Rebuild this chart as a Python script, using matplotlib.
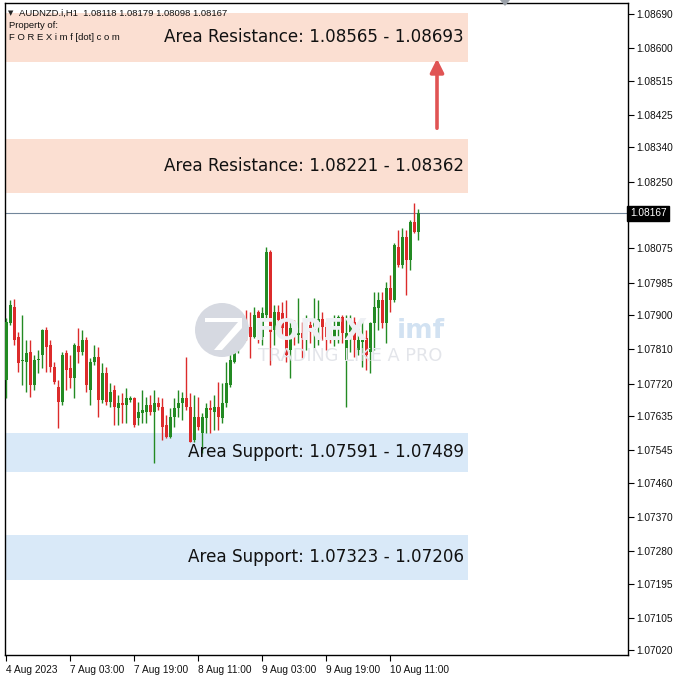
import numpy as np
import matplotlib
matplotlib.use("Agg")
import matplotlib.pyplot as plt
from matplotlib.patches import Rectangle, Circle, Polygon

# AUDNZD H1 candles, 4 Aug 2023 11:00 -> 10 Aug 2023 18:00
opens = [1.07730, 1.07879, 1.07921, 1.07842, 1.07779, 1.07777, 1.07803, 1.07716, 1.07782, 1.07795,
         1.07861, 1.07821, 1.07764, 1.07711, 1.07672, 1.07800, 1.07761, 1.07735, 1.07819, 1.07803,
         1.07835, 1.07703, 1.07777, 1.07790, 1.07677, 1.07748, 1.07672, 1.07703, 1.07656, 1.07669,
         1.07664, 1.07677, 1.07682, 1.07630, 1.07643, 1.07646, 1.07664, 1.07646, 1.07669, 1.07659,
         1.07611, 1.07580, 1.07632, 1.07656, 1.07669, 1.07682, 1.07659, 1.07572, 1.07632, 1.07590,
         1.07630, 1.07656, 1.07646, 1.07659, 1.07630, 1.07669, 1.07716, 1.07777, 1.07816, 1.07829,
         1.07861, 1.07869, 1.07842, 1.07908, 1.07842, 1.07900, 1.08066, 1.07861, 1.07908, 1.07905,
         1.07887, 1.07808, 1.07869, 1.07848, 1.07853, 1.07848, 1.07874, 1.07861, 1.07882, 1.07890,
         1.07869, 1.07842, 1.07842, 1.07869, 1.07895, 1.07782, 1.07856, 1.07882, 1.07808, 1.07829,
         1.07840, 1.07803, 1.07879, 1.07919, 1.07940, 1.07879, 1.07971, 1.07940, 1.08079, 1.08031,
         1.08105, 1.08045, 1.08144, 1.08118]
highs = [1.07892, 1.07940, 1.07942, 1.07856, 1.07900, 1.07835, 1.07835, 1.07795, 1.07808, 1.07863,
         1.07869, 1.07835, 1.07777, 1.07730, 1.07803, 1.07808, 1.07795, 1.07827, 1.07866, 1.07861,
         1.07842, 1.07787, 1.07821, 1.07816, 1.07774, 1.07764, 1.07722, 1.07716, 1.07690, 1.07695,
         1.07709, 1.07688, 1.07685, 1.07672, 1.07703, 1.07685, 1.07690, 1.07703, 1.07685, 1.07682,
         1.07638, 1.07656, 1.07682, 1.07703, 1.07698, 1.07790, 1.07695, 1.07690, 1.07685, 1.07643,
         1.07669, 1.07677, 1.07690, 1.07724, 1.07722, 1.07777, 1.07800, 1.07842, 1.07861, 1.07866,
         1.07913, 1.07908, 1.07921, 1.07913, 1.07921, 1.08079, 1.08071, 1.07926, 1.07926, 1.07934,
         1.07940, 1.07882, 1.07887, 1.07945, 1.07882, 1.07900, 1.07887, 1.07945, 1.07940, 1.07908,
         1.07882, 1.07861, 1.07900, 1.07900, 1.07900, 1.07900, 1.07900, 1.07895, 1.07866, 1.07887,
         1.07861, 1.07882, 1.07961, 1.07961, 1.07961, 1.07987, 1.08005, 1.08089, 1.08123, 1.08129,
         1.08123, 1.08150, 1.08194, 1.08179]
lows = [1.07682, 1.07874, 1.07821, 1.07751, 1.07716, 1.07698, 1.07685, 1.07703, 1.07748, 1.07761,
        1.07751, 1.07751, 1.07719, 1.07604, 1.07664, 1.07703, 1.07709, 1.07682, 1.07774, 1.07795,
        1.07698, 1.07664, 1.07769, 1.07632, 1.07669, 1.07664, 1.07659, 1.07611, 1.07611, 1.07617,
        1.07617, 1.07672, 1.07606, 1.07611, 1.07617, 1.07617, 1.07638, 1.07512, 1.07651, 1.07572,
        1.07577, 1.07577, 1.07606, 1.07632, 1.07625, 1.07651, 1.07567, 1.07567, 1.07598, 1.07538,
        1.07590, 1.07590, 1.07598, 1.07598, 1.07617, 1.07659, 1.07711, 1.07774, 1.07800, 1.07827,
        1.07835, 1.07787, 1.07840, 1.07827, 1.07821, 1.07892, 1.07769, 1.07821, 1.07874, 1.07842,
        1.07777, 1.07735, 1.07821, 1.07827, 1.07787, 1.07808, 1.07827, 1.07814, 1.07821, 1.07835,
        1.07808, 1.07827, 1.07819, 1.07827, 1.07827, 1.07659, 1.07803, 1.07790, 1.07795, 1.07764,
        1.07756, 1.07748, 1.07808, 1.07861, 1.07866, 1.07827, 1.07908, 1.07934, 1.08026, 1.08024,
        1.07953, 1.08018, 1.08115, 1.08098]
closes = [1.07882, 1.07926, 1.07835, 1.07774, 1.07782, 1.07800, 1.07716, 1.07782, 1.07785, 1.07861,
          1.07816, 1.07764, 1.07724, 1.07672, 1.07795, 1.07756, 1.07735, 1.07821, 1.07803, 1.07835,
          1.07716, 1.07777, 1.07790, 1.07677, 1.07748, 1.07672, 1.07698, 1.07659, 1.07669, 1.07664,
          1.07682, 1.07682, 1.07611, 1.07646, 1.07651, 1.07664, 1.07646, 1.07669, 1.07659, 1.07606,
          1.07580, 1.07632, 1.07656, 1.07669, 1.07682, 1.07659, 1.07567, 1.07632, 1.07606, 1.07632,
          1.07656, 1.07651, 1.07659, 1.07632, 1.07669, 1.07722, 1.07782, 1.07821, 1.07835, 1.07861,
          1.07853, 1.07842, 1.07900, 1.07835, 1.07905, 1.08066, 1.07856, 1.07908, 1.07887, 1.07866,
          1.07795, 1.07866, 1.07848, 1.07853, 1.07840, 1.07869, 1.07856, 1.07882, 1.07890, 1.07869,
          1.07842, 1.07835, 1.07869, 1.07895, 1.07853, 1.07853, 1.07882, 1.07835, 1.07835, 1.07842,
          1.07795, 1.07879, 1.07921, 1.07940, 1.07879, 1.07971, 1.07940, 1.08084, 1.08031, 1.08105,
          1.08045, 1.08144, 1.08118, 1.08167]

date_ticks = [0, 16, 32, 48, 64, 80, 96]
date_labels = ["4 Aug 2023", "7 Aug 03:00", "7 Aug 19:00", "8 Aug 11:00",
               "9 Aug 03:00", "9 Aug 19:00", "10 Aug 11:00"]
price_labels = ["1.08690", "1.08600", "1.08515", "1.08425", "1.08340", "1.08250", "1.08075",
                "1.07985", "1.07900", "1.07810", "1.07720", "1.07635", "1.07545", "1.07460",
                "1.07370", "1.07280", "1.07195", "1.07105", "1.07020"]

# zones: (label, low, high, colour)
zones = [("Area Resistance: 1.08565 - 1.08693", 1.08565, 1.08693, "#fbdfd2"),
         ("Area Resistance: 1.08221 - 1.08362", 1.08221, 1.08362, "#fbdfd2"),
         ("Area Support: 1.07591 - 1.07489", 1.07489, 1.07591, "#d9e9f8"),
         ("Area Support: 1.07323 - 1.07206", 1.07206, 1.07323, "#d9e9f8")]
zone_end = 115.4
last_price = 1.08167
arrow_from, arrow_to = 1.08383, 1.08580

fig = plt.figure(figsize=(6.78, 6.78), dpi=100)
ax = fig.add_axes([5 / 678, 23 / 678, 623 / 678, 652 / 678])
x0, x1 = -0.3, 155.45
ax.set_xlim(x0, x1)
ax.set_ylim(1.07008, 1.08719)

# watermark
fig.patches.append(Circle((222 / 678, 1 - 330 / 678), 27 / 678, transform=fig.transFigure,
                          facecolor="#d6d9e1", edgecolor="none", zorder=0))
fig.patches.append(Polygon([(205 / 678, 1 - 322 / 678), (238 / 678, 1 - 322 / 678),
                            (214 / 678, 1 - 350 / 678), (222 / 678, 1 - 350 / 678),
                            (242 / 678, 1 - 328 / 678), (242 / 678, 1 - 318 / 678),
                            (205 / 678, 1 - 318 / 678)],
                           closed=True, transform=fig.transFigure, facecolor="white",
                           edgecolor="none", zorder=0))
ax.patch.set_alpha(0)
fig.text(253 / 678, 1 - 331 / 678, "FOREX", fontsize=22, fontweight="bold", color="#eef0f4",
         va="center", ha="left", zorder=0)
fig.text(397 / 678, 1 - 331 / 678, "imf", fontsize=19, fontweight="bold", color="#d2e2f2",
         va="center", ha="left", zorder=0)
fig.text(258 / 678, 1 - 356 / 678, "TRADING LIKE A PRO", fontsize=12.8, color="#e3e5ea",
         va="center", ha="left", zorder=0)

for label, lo, hi, col in zones:
    ax.add_patch(Rectangle((x0 - 1, lo), zone_end - x0 + 1, hi - lo, facecolor=col,
                           edgecolor="none", zorder=1))
    ax.text(zone_end - 1.0, (lo + hi) / 2, label, ha="right", va="center",
            fontsize=12.1, color="#111111", zorder=5)

ax.axhline(last_price, color="#72869b", lw=0.8, zorder=2)

x = np.arange(len(opens))
o = np.array(opens)
h = np.array(highs)
l = np.array(lows)
c = np.array(closes)
colors = np.where(c >= o, "#238a23", "#dc2b2b")
ax.vlines(x, l, h, colors=colors, lw=1.0, zorder=3)
body = np.maximum(np.abs(c - o), 0.000015)
ax.bar(x, body, bottom=np.minimum(o, c), width=0.75, color=colors, edgecolor="none", zorder=4)

ax.annotate("", xy=(107.7, arrow_to), xytext=(107.7, arrow_from),
            arrowprops=dict(arrowstyle="-|>", color="#e05454", lw=2.6, mutation_scale=20),
            zorder=6)

# axes styling
for s in ax.spines.values():
    s.set_color("black")
    s.set_linewidth(1.0)
ax.yaxis.tick_right()
ax.set_yticks([float(v) for v in price_labels])
ax.set_yticklabels(price_labels)
ax.tick_params(axis="y", direction="out", length=4, width=0.8, pad=2, labelsize=7.3,
               labelcolor="#111111")
ax.set_xticks(date_ticks)
ax.set_xticklabels(date_labels)
ax.tick_params(axis="x", direction="out", length=4, width=0.8, pad=3, labelsize=7.3,
               labelcolor="#111111")
for t in ax.get_xticklabels():
    t.set_horizontalalignment("left")
for t in ax.get_xticklabels() + ax.get_yticklabels():
    t.set_fontfamily("Liberation Sans")

# current price tag
ax.text(1.003, last_price, "1.08167", transform=ax.get_yaxis_transform(), ha="left",
        va="center", fontsize=7.3, color="white", family="Liberation Sans",
        bbox=dict(boxstyle="square,pad=0.25", facecolor="black", edgecolor="black"),
        zorder=10, clip_on=False)

# header
fig.text(8 / 678, 1 - 13 / 678, "\u25bc", fontsize=5, va="center", ha="left", color="#222222")
fig.text(19 / 678, 1 - 13 / 678, "AUDNZD.i,H1  1.08118 1.08179 1.08098 1.08167",
         fontsize=6.8, va="center", ha="left", color="#111111", family="Liberation Sans")
fig.text(9 / 678, 1 - 25 / 678, "Property of:", fontsize=6.8, va="center", ha="left",
         color="#111111", family="Liberation Sans")
fig.text(9 / 678, 1 - 37 / 678, "F O R E X i m f [dot] c o m", fontsize=6.8, va="center",
         ha="left", color="#111111", family="Liberation Sans")

# top marker
fig.patches.append(Polygon([(500 / 678, 1.0), (510 / 678, 1.0), (505 / 678, 1 - 6 / 678)],
                           closed=True, transform=fig.transFigure, facecolor="#9aa0a8",
                           edgecolor="none"))

fig.savefig("out.png", dpi=100)
